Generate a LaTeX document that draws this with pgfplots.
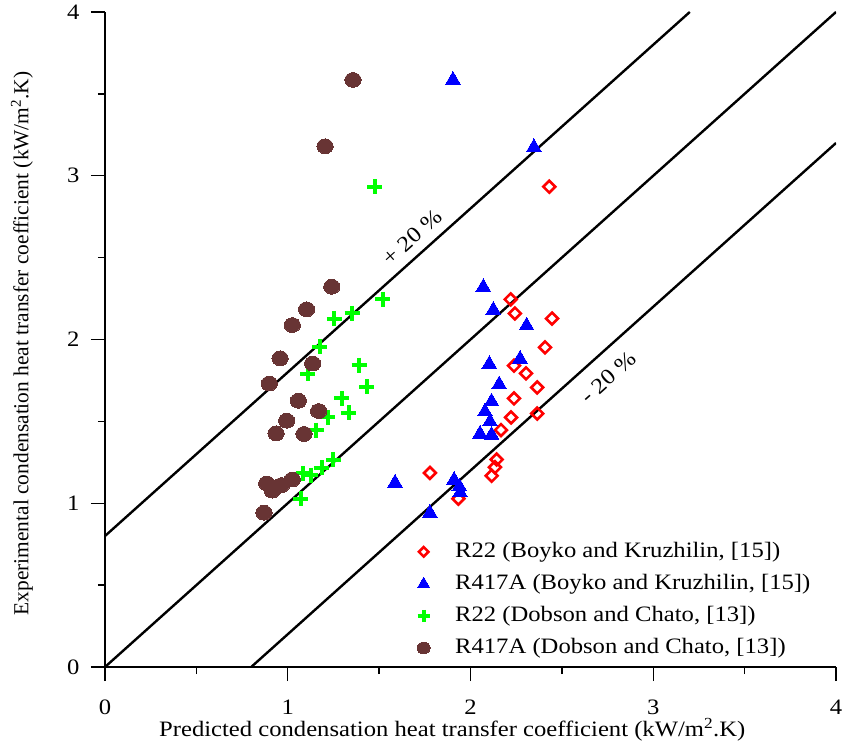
\documentclass[border=0pt]{standalone}
\usepackage{pgfplots}
\pgfplotsset{compat=1.18}
\usepackage{fontspec}
\setmainfont{Liberation Serif}[FakeStretch=1.12]
\newfontfamily\ylabfont{Liberation Serif}
\definecolor{brownc}{RGB}{104,52,52}
\definecolor{gr}{RGB}{0,255,0}
\newcommand{\mf}{\fontsize{22}{26}\selectfont}
\begin{document}
\mf
\begin{tikzpicture}
\begin{axis}[
  name=ax,
  scale only axis,
  width=731pt, height=655pt,
  xmin=0, xmax=4, ymin=0, ymax=4,
  axis lines=left,
  axis line style={-, line width=1.3pt},
  xtick={0,1,2,3,4}, ytick={0,1,2,3,4},
  minor tick num=1,
  tick align=outside,
  major tick length=14pt,
  minor tick length=7pt,
  every tick/.style={black, line width=1.3pt},
  /pgf/number format/assume math mode=true,
  ticklabel style={font=\mf},
  xticklabel style={yshift=-11pt},
  yticklabel style={xshift=-4pt},
  xlabel={Predicted condensation heat transfer coefficient (kW/m\textsuperscript{2}.K)},
  ylabel={Experimental condensation heat transfer coefficient (kW/m\textsuperscript{2}.K)},
  xlabel style={at={(axis description cs:0.475,-0.096)}, anchor=center, font=\mf},
  ylabel style={at={(axis description cs:-0.1135,0.494)}, anchor=center, font=\ylabfont\fontsize{21.4}{25}\selectfont},
  legend style={at={(rel axis cs:0.424,0.198)}, anchor=north west, draw=none, fill=none,
    font=\mf, row sep=7.5pt, column sep=22pt, inner sep=2pt,
    nodes={inner sep=3pt}},
  legend image post style={/tikz/every mark/.append style={scale=0.8}},
  legend cell align=left,
  clip=true,
]
\addplot[only marks, mark=square, mark size=4.2pt, mark options={rotate=45, draw=red, fill=white, line width=2.6pt}]
coordinates {
(2.431,2.933)(2.220,2.245)(2.243,2.159)(2.446,2.128)(2.408,1.952)(2.238,1.840)(2.304,1.793)
(2.365,1.707)(2.238,1.640)(2.222,1.524)(2.365,1.548)(2.167,1.447)(2.143,1.267)(2.134,1.220)
(2.116,1.168)(1.934,1.028)(1.778,1.185)
};
\addlegendentry{R22 (Boyko and Kruzhilin, [15])}
\addplot[only marks, mark=triangle*, mark size=8.5pt, mark options={draw=blue, fill=blue, line width=0pt}]
coordinates {
(1.904,3.585)(2.347,3.174)(2.070,2.319)(2.125,2.180)(2.307,2.084)(2.271,1.881)(2.103,1.849)
(2.157,1.725)(2.115,1.620)(2.079,1.559)(2.107,1.498)(2.052,1.423)(2.115,1.417)(1.910,1.142)
(1.939,1.101)(1.943,1.065)(1.587,1.124)(1.778,0.940)
};
\addlegendentry{R417A (Boyko and Kruzhilin, [15])}
\addplot[only marks, mark=+, mark size=7.5pt, mark options={draw=gr, line width=4pt}]
coordinates {
(1.477,2.933)(1.519,2.245)(1.255,2.128)(1.352,2.159)(1.176,1.956)(1.109,1.792)(1.391,1.844)
(1.431,1.712)(1.295,1.640)(1.333,1.553)(1.218,1.524)(1.155,1.447)(1.249,1.267)(1.185,1.217)
(1.125,1.172)(1.085,1.182)(1.070,1.028)
};
\addlegendentry{R22 (Dobson and Chato, [13])}
\addplot[only marks, mark=*, mark size=7.4pt, mark options={draw=brownc, fill=brownc, xscale=1.1, line width=0pt}]
coordinates {
(1.357,3.585)(1.204,3.180)(1.241,2.322)(1.103,2.184)(1.025,2.088)(0.958,1.885)(1.136,1.853)
(0.899,1.731)(1.058,1.626)(1.169,1.563)(0.994,1.504)(0.936,1.427)(1.089,1.423)(0.885,1.121)
(0.966,1.111)(1.025,1.145)(0.916,1.077)(0.870,0.942)
};
\addlegendentry{R417A (Dobson and Chato, [13])}
\addplot[black, line width=2.4pt, forget plot] coordinates {(0,0)(4,4)};
\addplot[black, line width=2.4pt, forget plot] coordinates {(0,0.8)(3.2,4)}
  node[pos=0.545, sloped, above, inner sep=9pt, font=\mf] {+ 20 \%};
\addplot[black, line width=2.4pt, forget plot] coordinates {(0.8,0)(4,3.2)}
  node[pos=0.585, sloped, below, inner sep=14pt, font=\mf] {- 20 \%};
\end{axis}
\pgfresetboundingbox
\path ([shift={(-105pt,-77pt)}]ax.south west) rectangle ([shift={(738pt,667pt)}]ax.south west);
\end{tikzpicture}
\end{document}
